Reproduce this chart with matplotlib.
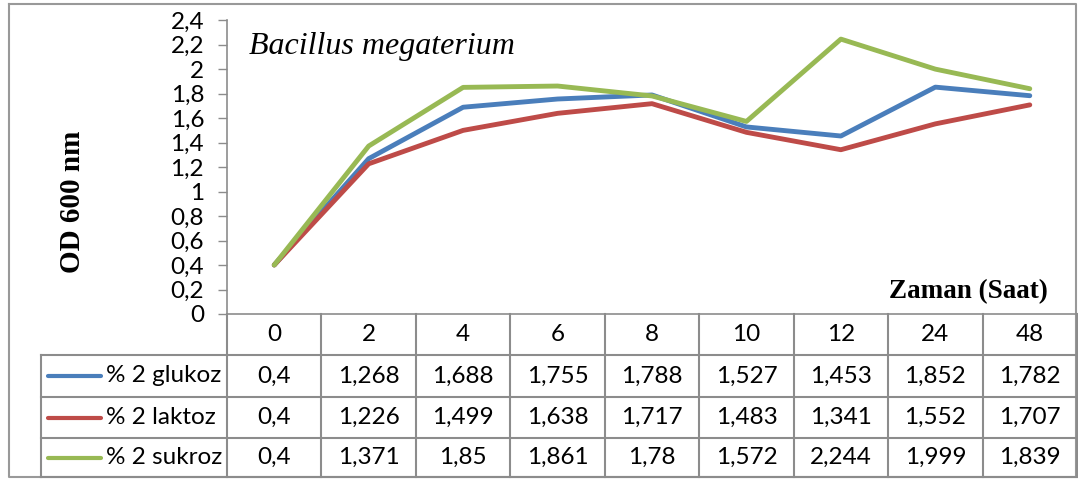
import numpy as np
import matplotlib.pyplot as plt
from matplotlib.transforms import blended_transform_factory

# OD600 readings of Bacillus megaterium on three sugars
hours = ['0', '2', '4', '6', '8', '10', '12', '24', '48']
glukoz = [0.4, 1.268, 1.688, 1.755, 1.788, 1.527, 1.453, 1.852, 1.782]
laktoz = [0.4, 1.226, 1.499, 1.638, 1.717, 1.483, 1.341, 1.552, 1.707]
sukroz = [0.4, 1.371, 1.85, 1.861, 1.78, 1.572, 2.244, 1.999, 1.839]
series_names = ['% 2 glukoz', '% 2 laktoz', '% 2 sukroz']
series_colors = ['#4A7EBB', '#BE4B48', '#98B954']
yticks = np.arange(0, 2.41, 0.2)

W, H = 1078, 479
grid_col = '#8c8c8c'
num_font = 'Lato'
num_size = 17.5

fig = plt.figure(figsize=(W/100, H/100), dpi=100)

# overlay in pixel units for the frame and the data table
ov = fig.add_axes([0, 0, 1, 1], zorder=0)
ov.set_xlim(0, W)
ov.set_ylim(H, 0)
ov.axis('off')

ax = fig.add_axes([227/W, 1-314/H, (1077-227)/W, (314-20)/H], zorder=1)
ax.patch.set_alpha(0)

x = np.arange(len(hours))
for vals, col in zip([glukoz, laktoz, sukroz], series_colors):
    ax.plot(x, vals, color=col, lw=3.5, solid_capstyle='round', solid_joinstyle='round')

ax.set_xlim(-0.5, len(hours)-0.5)
ax.set_ylim(0, 2.4)
ax.set_xticks([])
ax.set_yticks(yticks)
ax.set_yticklabels([('%g' % v).replace('.', ',') for v in yticks],
                   fontsize=num_size, family=num_font)
ax.tick_params(axis='y', length=6.5, width=1, color=grid_col, pad=10)
for s in ['top', 'right']:
    ax.spines[s].set_visible(False)
for s in ['left', 'bottom']:
    ax.spines[s].set_color(grid_col)
    ax.spines[s].set_linewidth(1.2)

ax.text(0.026, 0.96, 'Bacillus megaterium', transform=ax.transAxes,
        family='Liberation Serif', style='italic', fontsize=23, va='top')
ax.text(0.966, 0.075, 'Zaman (Saat)', transform=ax.transAxes,
        family='Liberation Serif', weight='bold', fontsize=19.5, ha='right', va='center')
fig.text(72/W, 1-202/H, 'OD 600 nm', rotation=90, family='Liberation Serif',
         weight='bold', fontsize=21, ha='center', va='center')

# outer frame
ov.plot([9, 1076, 1076, 9, 9], [4, 4, 477, 477, 4], color='#999999', lw=1.5)

# data table below the plot
tr = blended_transform_factory(ax.transData, ov.transData)
row_y = [314, 355, 397, 438, 477]
for i in range(len(hours)+1):
    ov.plot([i-0.5, i-0.5], [314, 477], color=grid_col, lw=1.5, transform=tr)
for yy in row_y[1:]:
    ov.plot([41, 1077], [yy, yy], color=grid_col, lw=1.5)
ov.plot([41, 41], [355, 477], color=grid_col, lw=1.5)

for i, h in enumerate(hours):
    ov.text(i, (row_y[0]+row_y[1])/2, h, transform=tr, ha='center', va='center',
            fontsize=num_size, family=num_font)
for r, (name, vals, col) in enumerate(zip(series_names, [glukoz, laktoz, sukroz], series_colors)):
    yc = (row_y[r+1]+row_y[r+2])/2
    ov.plot([48, 101], [yc, yc], color=col, lw=3, solid_capstyle='round')
    ov.text(106, yc, name, ha='left', va='center', fontsize=num_size, family=num_font)
    for i, v in enumerate(vals):
        ov.text(i, yc, ('%g' % v).replace('.', ','), transform=tr, ha='center',
                va='center', fontsize=num_size, family=num_font)

fig.savefig('out.png', dpi=100)
